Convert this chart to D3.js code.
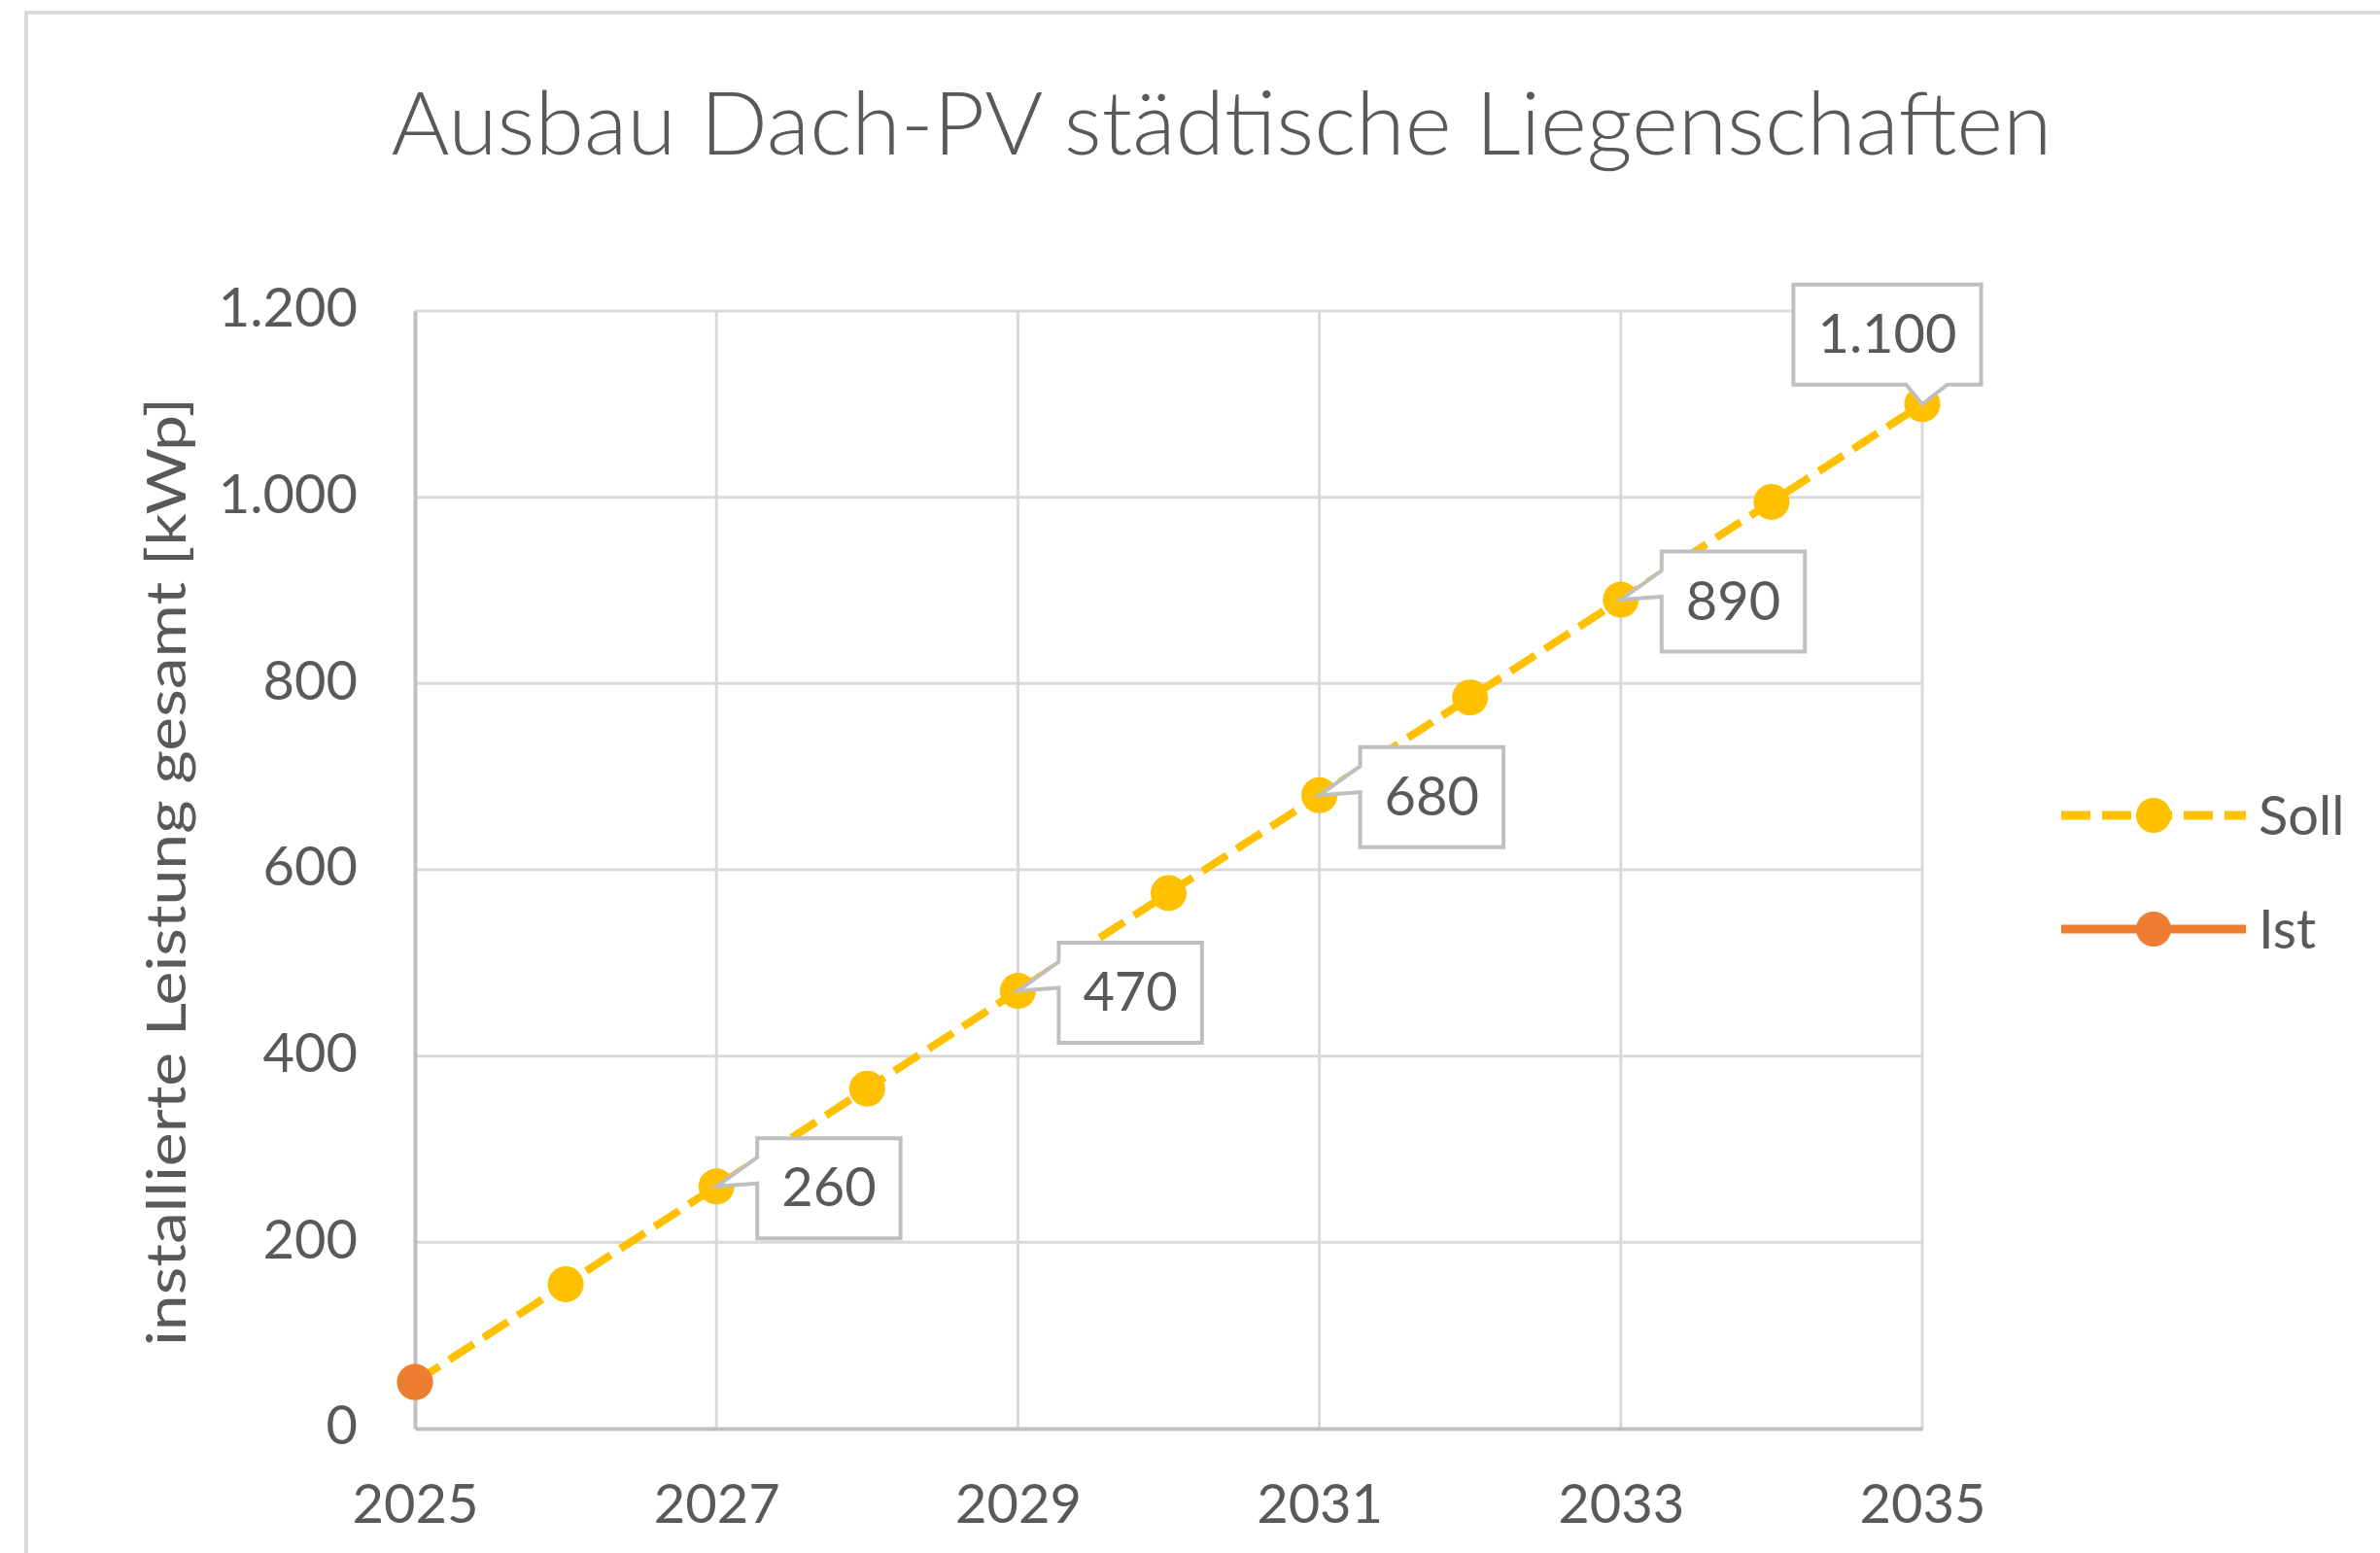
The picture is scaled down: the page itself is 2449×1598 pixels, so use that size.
<!DOCTYPE html>
<html lang="de">
<head>
    <meta charset="UTF-8">
    <title>Ausbau Dach-PV städtische Liegenschaften</title>
    <script src="https://d3js.org/d3.v7.min.js"></script>
    <style>
        body {
            margin: 0;
            padding: 0;
            background: white;
        }
        svg {
            display: block;
            font-family: 'Lato', 'Open Sans', sans-serif;
        }
    </style>
</head>
<body>
    <svg id="chart" width="2449" height="1598"></svg>

    <script>
        // chart values
        const years = [2025, 2026, 2027, 2028, 2029, 2030, 2031, 2032, 2033, 2034, 2035];
        const soll = [50, 155, 260, 365, 470, 575, 680, 785, 890, 995, 1100];
        const istYears = [2025];
        const ist = [50];
        const labelYears = [2027, 2029, 2031, 2033, 2035];
        const xTicks = [2025, 2027, 2029, 2031, 2033, 2035];
        const yTicks = [0, 200, 400, 600, 800, 1000, 1200];
        const seriesNames = ["Soll", "Ist"];

        const titleText = "Ausbau Dach-PV städtische Liegenschaften";
        const yTitleText = "installierte Leistung gesamt [kWp]";

        const textColor = "#595959";
        const sollColor = "#FFC000";
        const istColor = "#ED7D31";

        const de = d3.formatLocale({ decimal: ",", thousands: ".", grouping: [3], currency: ["", " €"] });
        const fmt = de.format(",d");

        const svg = d3.select("#chart");
        const margin = { top: 320, right: 471, bottom: 128, left: 427 };
        const width = 2449, height = 1598;

        const x = d3.scaleLinear()
            .domain([2025, 2035])
            .range([margin.left, width - margin.right]);

        const y = d3.scaleLinear()
            .domain([0, 1200])
            .range([height - margin.bottom, margin.top]);

        // outer chart frame
        svg.append("rect")
            .attr("x", 27).attr("y", 13)
            .attr("width", 2500).attr("height", 1700)
            .attr("fill", "white")
            .attr("stroke", "#d9d9d9")
            .attr("stroke-width", 4);

        // title
        svg.append("text")
            .attr("x", 1257).attr("y", 159)
            .attr("text-anchor", "middle")
            .attr("fill", textColor)
            .attr("font-size", 90)
            .attr("font-weight", 300)
            .attr("textLength", 1709)
            .attr("lengthAdjust", "spacingAndGlyphs")
            .text(titleText);

        // gridlines
        svg.append("g")
            .selectAll("line")
            .data(yTicks.filter(d => d > 0))
            .join("line")
            .attr("x1", x(2025)).attr("x2", x(2035))
            .attr("y1", d => y(d)).attr("y2", d => y(d))
            .attr("stroke", "#d9d9d9")
            .attr("stroke-width", 3);

        svg.append("g")
            .selectAll("line")
            .data(xTicks.filter(d => d > 2025))
            .join("line")
            .attr("x1", d => x(d)).attr("x2", d => x(d))
            .attr("y1", y(0)).attr("y2", y(1200))
            .attr("stroke", "#d9d9d9")
            .attr("stroke-width", 3);

        // axes
        const xAxis = svg.append("g")
            .attr("transform", `translate(0,${y(0)})`)
            .call(d3.axisBottom(x).tickValues(xTicks).tickFormat(d3.format("d")).tickSize(0).tickPadding(0));
        xAxis.select(".domain").attr("stroke", "#bfbfbf").attr("stroke-width", 4);
        xAxis.selectAll("text")
            .attr("y", 97)
            .attr("dy", 0)
            .attr("fill", textColor)
            .attr("font-size", 56)
            .attr("font-family", "Lato, 'Open Sans', sans-serif");

        const yAxis = svg.append("g")
            .attr("transform", `translate(${x(2025)},0)`)
            .call(d3.axisLeft(y).tickValues(yTicks).tickFormat(fmt).tickSize(0).tickPadding(0));
        yAxis.select(".domain").attr("stroke", "#bfbfbf").attr("stroke-width", 4);
        yAxis.selectAll("text")
            .attr("x", -59)
            .attr("dy", "0.28em")
            .attr("fill", textColor)
            .attr("font-size", 56)
            .attr("font-family", "Lato, 'Open Sans', sans-serif");

        // y axis title
        svg.append("text")
            .attr("transform", "translate(169,897) rotate(-90)")
            .attr("text-anchor", "middle")
            .attr("dominant-baseline", "central")
            .attr("fill", textColor)
            .attr("font-size", 56)
            .attr("textLength", 976)
            .attr("lengthAdjust", "spacingAndGlyphs")
            .text(yTitleText);

        // Soll series
        const sollData = years.map((yr, i) => ({ year: yr, value: soll[i] }));
        const istData = istYears.map((yr, i) => ({ year: yr, value: ist[i] }));

        const line = d3.line().x(d => x(d.year)).y(d => y(d.value));

        svg.append("path")
            .datum(sollData)
            .attr("d", line)
            .attr("fill", "none")
            .attr("stroke", sollColor)
            .attr("stroke-width", 8)
            .attr("stroke-dasharray", "30,12");

        svg.append("g")
            .selectAll("circle")
            .data(sollData)
            .join("circle")
            .attr("cx", d => x(d.year))
            .attr("cy", d => y(d.value))
            .attr("r", 18.5)
            .attr("fill", sollColor);

        // Ist series
        svg.append("path")
            .datum(istData)
            .attr("d", line)
            .attr("fill", "none")
            .attr("stroke", istColor)
            .attr("stroke-width", 8);

        svg.append("g")
            .selectAll("circle")
            .data(istData)
            .join("circle")
            .attr("cx", d => x(d.year))
            .attr("cy", d => y(d.value))
            .attr("r", 18.5)
            .attr("fill", istColor);

        // data label callouts
        const labels = svg.append("g");
        sollData.filter(d => labelYears.includes(d.year)).forEach(d => {
            const px = x(d.year), py = y(d.value);
            const g = labels.append("g");
            const path = g.append("path")
                .attr("fill", "white")
                .attr("stroke", "#bfbfbf")
                .attr("stroke-width", 4)
                .attr("stroke-linejoin", "miter");
            const t = g.append("text")
                .attr("text-anchor", "middle")
                .attr("dominant-baseline", "central")
                .attr("fill", textColor)
                .attr("font-size", 56)
                .text(fmt(d.value));
            const tw = t.node().getComputedTextLength();
            const w = tw + 50, h = 103;
            let x0, y0, p;
            if (d.year === 2035) {
                // label above the last point
                x0 = px - 36 - w / 2;
                y0 = py - 20 - h;
                p = `M${x0},${y0}H${x0 + w}V${y0 + h}H${x0 + 0.82 * w}L${px},${py}L${x0 + 0.6 * w},${y0 + h}H${x0}Z`;
            } else {
                x0 = px + 42;
                y0 = py + 2 - h / 2;
                p = `M${x0},${y0}H${x0 + w}V${y0 + h}H${x0}V${y0 + 0.45 * h}L${px},${py}L${x0},${y0 + 0.19 * h}Z`;
            }
            path.attr("d", p);
            t.attr("x", x0 + w / 2).attr("y", y0 + h / 2 - 3);
        });

        // legend
        const legend = svg.append("g");
        const legendY = [839, 956];
        const legendColors = [sollColor, istColor];
        const legendDash = ["30,12", null];
        seriesNames.forEach((name, i) => {
            const g = legend.append("g").attr("transform", `translate(0,${legendY[i]})`);
            g.append("line")
                .attr("x1", 2121).attr("x2", 2311)
                .attr("stroke", legendColors[i])
                .attr("stroke-width", 9)
                .attr("stroke-dasharray", legendDash[i]);
            g.append("circle")
                .attr("cx", 2216)
                .attr("r", 18)
                .attr("fill", legendColors[i]);
            g.append("text")
                .attr("x", 2324)
                .attr("y", -2)
                .attr("dominant-baseline", "central")
                .attr("fill", textColor)
                .attr("font-size", 56)
                .text(name);
        });
    </script>
</body>
</html>
